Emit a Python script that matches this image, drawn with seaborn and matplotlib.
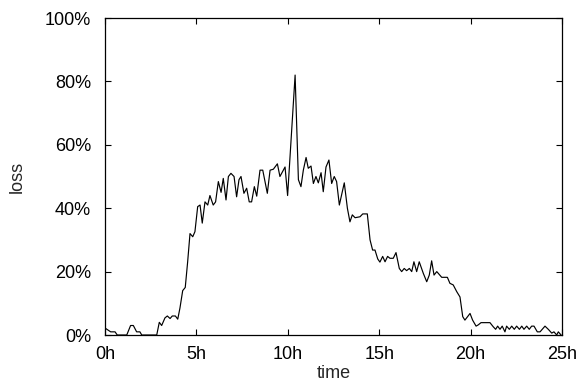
import numpy as np
import pandas as pd
import seaborn as sns
import matplotlib
matplotlib.use("Agg")
import matplotlib.pyplot as plt

# readings (hours, loss in %)
hours = [0.00, 0.18, 0.31, 0.55, 0.67, 1.19, 1.40, 1.55, 1.73, 1.91, 2.01, 2.83,
         2.97, 3.10, 3.28, 3.41, 3.56, 3.68, 3.85, 3.98, 4.10, 4.25, 4.39, 4.52,
         4.65, 4.80, 4.92, 5.07, 5.20, 5.32, 5.47, 5.62, 5.74, 5.92, 6.05, 6.20,
         6.35, 6.47, 6.62, 6.75, 6.89, 7.06, 7.20, 7.33, 7.44, 7.60, 7.75, 7.89,
         8.02, 8.17, 8.30, 8.48, 8.63, 8.88, 9.03, 9.21, 9.43, 9.57, 9.85, 9.99,
         10.40, 10.58, 10.72, 10.85, 11.00, 11.12, 11.27, 11.40, 11.54, 11.67,
         11.82, 11.94, 12.09, 12.25, 12.40, 12.54, 12.67, 12.82, 13.09, 13.26,
         13.40, 13.53, 13.68, 13.95, 14.10, 14.35, 14.50, 14.64, 14.77, 14.92,
         15.04, 15.19, 15.32, 15.46, 15.59, 15.77, 15.92, 16.10, 16.23, 16.37,
         16.50, 16.65, 16.78, 16.90, 17.05, 17.19, 17.41, 17.60, 17.74, 17.87,
         18.00, 18.15, 18.42, 18.73, 18.87, 19.05, 19.24, 19.42, 19.57, 19.69,
         19.84, 19.97, 20.11, 20.30, 20.42, 20.57, 21.06, 21.24, 21.37, 21.48,
         21.61, 21.73, 21.88, 21.97, 22.12, 22.25, 22.39, 22.52, 22.67, 22.80,
         22.92, 23.07, 23.21, 23.34, 23.47, 23.65, 23.80, 24.07, 24.25, 24.44,
         24.56, 24.71, 24.80, 24.95]
loss = [2.2, 1.5, 1.0, 1.0, 0, 0, 3.0, 3.0, 1.0, 1.0, 0, 0,
        4.0, 3.0, 5.4, 6.0, 5.2, 6.0, 6.0, 5.0, 8.5, 14, 15, 23,
        32, 31, 32.6, 40.5, 41, 35.3, 42, 41, 44, 41, 42, 48.4,
        45, 49.4, 42.6, 50, 51, 50, 43.6, 49, 50, 44.7, 46.3, 42,
        42, 46.8, 43.8, 52, 52, 44.7, 52, 52.3, 54, 50, 53, 44,
        82, 49, 46.8, 52, 56, 52.6, 53.3, 47.8, 50, 48,
        51.2, 45.2, 53, 55.2, 47.8, 50, 48.4, 41, 48, 40,
        35.7, 37.9, 37, 37.3, 38.2, 38.2, 30, 26.8, 26.8, 24,
        23, 24.8, 23.1, 24.8, 24.2, 24.2, 26, 21, 20, 21,
        20.3, 21, 20, 23.1, 20, 23.1, 19.5, 16.8, 18.9, 23.4,
        18.9, 20, 18.2, 18.2, 16.3, 15.8, 13.7, 12, 5.8, 4.7,
        5.8, 6.8, 4.7, 2.8, 3.2, 3.9, 3.9, 2.6, 1.8, 2.8,
        1.8, 2.8, 1.0, 2.8, 1.8, 2.8, 1.8, 2.8, 1.8, 2.8,
        1.8, 2.8, 1.8, 2.8, 2.8, 1.0, 1.0, 2.8, 1.8, 0.6,
        1.0, 0, 1.0, 0]

x_ticks = [0, 5, 10, 15, 20, 25]
x_labels = ["0h", "5h", "10h", "15h", "20h", "25h"]
y_ticks = [0, 20, 40, 60, 80, 100]
y_labels = ["0%", "20%", "40%", "60%", "80%", "100%"]

df = pd.DataFrame({"time": hours, "loss": loss})

sns.set_style("ticks")
plt.rcParams["font.family"] = ["Liberation Sans", "DejaVu Sans"]
plt.rcParams["font.size"] = 13

fig = plt.figure(figsize=(5.84, 3.83), dpi=100)
ax = fig.add_axes([0.1798, 0.1253, 0.7825, 0.8277])

sns.lineplot(data=df, x="time", y="loss", color="black", linewidth=0.85,
             estimator=None, sort=False, ax=ax)

ax.set_xlim(0, 25)
ax.set_ylim(0, 100)
ax.set_xticks(x_ticks)
ax.set_xticklabels(x_labels)
ax.set_yticks(y_ticks)
ax.set_yticklabels(y_labels)
ax.tick_params(direction="in", length=4, width=0.8, top=True, right=True,
               labelsize=13, colors="black")
ax.tick_params(axis="x", pad=8)
ax.tick_params(axis="y", pad=10)
for s in ax.spines.values():
    s.set_visible(True)
    s.set_color("black")
    s.set_linewidth(0.9)

ax.set_xlabel("time", fontsize=13, labelpad=1)
ax.set_ylabel("loss", fontsize=13, labelpad=14)

fig.savefig("out.png", dpi=100)
